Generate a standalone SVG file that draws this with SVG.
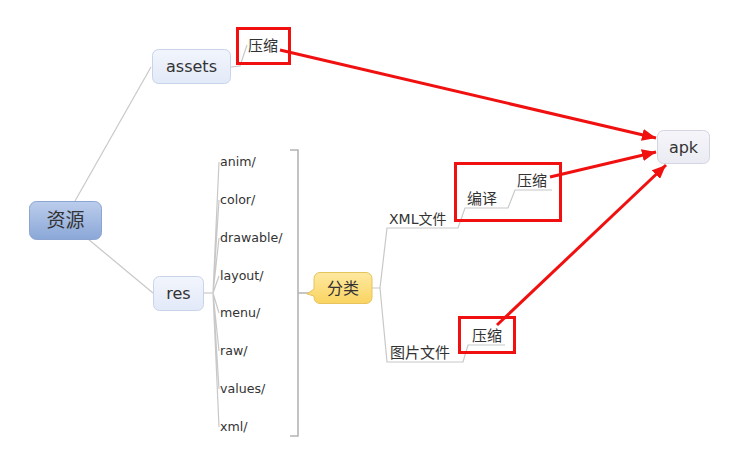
<svg xmlns="http://www.w3.org/2000/svg" width="733" height="453" viewBox="0 0 733 453">
<defs>
<linearGradient id="gRoot" x1="0" y1="0" x2="0" y2="1"><stop offset="0" stop-color="#bccdec"/><stop offset="1" stop-color="#8aa7d7"/></linearGradient>
<linearGradient id="gMain" x1="0" y1="0" x2="0" y2="1"><stop offset="0" stop-color="#f2f5fc"/><stop offset="1" stop-color="#e2e9f8"/></linearGradient>
<linearGradient id="gApk" x1="0" y1="0" x2="0" y2="1"><stop offset="0" stop-color="#f5f5fa"/><stop offset="1" stop-color="#ebebf3"/></linearGradient>
<linearGradient id="gYel" x1="0" y1="0" x2="0" y2="1"><stop offset="0" stop-color="#fee9a0"/><stop offset="1" stop-color="#fad462"/></linearGradient>
<marker id="arr" markerUnits="userSpaceOnUse" markerWidth="16" markerHeight="12" refX="14" refY="6" orient="auto"><path d="M0,0 L14,6 L0,12 z" fill="#f01010"/></marker>
<style>
.t{font-family:"DejaVu Sans","Noto Sans CJK SC",sans-serif;fill:#333}
.c{font-family:"Noto Sans CJK SC","DejaVu Sans",sans-serif;fill:#333}
.ln{stroke:#c8c8c8;stroke-width:1.2;fill:none}
.br{stroke:#b4b4b4;stroke-width:1.6;fill:none}
.red{stroke:#f01010;stroke-width:3;fill:none}
.ra{stroke:#f01010;stroke-width:3;fill:none;marker-end:url(#arr)}
</style>
</defs>
<rect width="733" height="453" fill="#ffffff"/>
<g id="connectors">
<path class="ln" d="M75,201 L151,67"/>
<path class="ln" d="M88,239 L153,293"/>
<path class="ln" d="M231,67 L240,66 L247,45"/>
<path class="ln" d="M203,293 L213,293"/>
<path class="ln" d="M213,293 L219,162 M213,293 L219,200 M213,293 L219,238 M213,293 L219,276 M213,293 L219,313 M213,293 L219,351 M213,293 L219,389 M213,293 L219,427"/>
<path class="br" d="M290,150 L298,150 L298,436 L290,436 M298,293 L314,293"/>
<path class="ln" d="M372,288 L380,288 M380,288 L387,228 L458,228 L465,208 L508,208 L515,190 L552,190 M380,288 L387,362 L463,362 L468,345 L505,345"/>
<path class="ra" d="M280,50 L656,138"/>
<path class="ra" d="M550,177 L656,152"/>
<path class="ra" d="M497,325 L666,165"/>
</g>
<g id="root"><rect x="29.5" y="201.5" width="72" height="38" rx="7" fill="url(#gRoot)" stroke="#8ba4d2"/><text class="c" x="65.5" y="227" font-size="19" text-anchor="middle" fill="#333">资源</text></g>
<g id="assets"><rect x="152.5" y="49.5" width="78" height="34" rx="6" fill="url(#gMain)" stroke="#c8d4ea"/><text class="t" x="191.5" y="72" font-size="16" text-anchor="middle">assets</text></g>
<g id="assets-compress"><rect class="red" x="237.5" y="28.5" width="52" height="35"/><text class="c" x="248" y="51" font-size="15">压缩</text></g>
<g id="res"><rect x="153.5" y="276.5" width="50" height="34" rx="6" fill="url(#gMain)" stroke="#c8d4ea"/><text class="t" x="178.5" y="299" font-size="16" text-anchor="middle">res</text></g>
<g id="res-children">
<text class="t" x="220" y="166" font-size="12.6">anim/</text>
<text class="t" x="220" y="204" font-size="12.6">color/</text>
<text class="t" x="220" y="242" font-size="12.6">drawable/</text>
<text class="t" x="220" y="280" font-size="12.6">layout/</text>
<text class="t" x="220" y="317" font-size="12.6">menu/</text>
<text class="t" x="220" y="355" font-size="12.6">raw/</text>
<text class="t" x="220" y="393" font-size="12.6">values/</text>
<text class="t" x="220" y="431" font-size="12.6">xml/</text>
</g>
<g id="classify"><path d="M320,272.5 H366 A6,6 0 0 1 372,278.5 V297.5 A6,6 0 0 1 366,303.5 H320 A6,6 0 0 1 314,297.5 V296 L307,294 L314,289 V278.5 A6,6 0 0 1 320,272.5 Z" fill="url(#gYel)" stroke="#e6c35c"/><text class="c" x="343" y="294" font-size="16" text-anchor="middle" fill="#555">分类</text></g>
<g id="xml"><text class="t" x="389" y="224" font-size="14">XML文件</text></g>
<g id="xml-compile"><rect class="red" x="455.5" y="163.5" width="105" height="57"/><text class="c" x="467" y="204" font-size="15">编译</text><text class="c" x="517" y="186" font-size="15">压缩</text></g>
<g id="image"><text class="c" x="390" y="358" font-size="15">图片文件</text></g>
<g id="image-compress"><rect class="red" x="459.5" y="317.5" width="55" height="35"/><text class="c" x="472" y="341" font-size="15">压缩</text></g>
<g id="apk"><rect x="657.5" y="130.5" width="52" height="33" rx="6" fill="url(#gApk)" stroke="#d3d5e2"/><text class="t" x="683.5" y="153" font-size="16" text-anchor="middle">apk</text></g>
</svg>
